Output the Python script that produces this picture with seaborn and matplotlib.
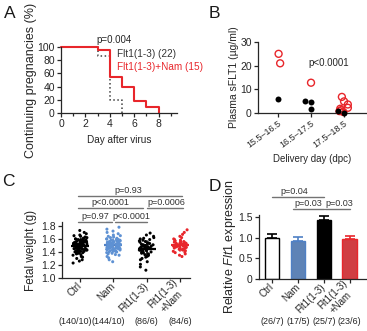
import numpy as np
import pandas as pd
import seaborn as sns
import matplotlib.pyplot as plt
import matplotlib.transforms as mtransforms
from matplotlib.ticker import MultipleLocator

# ---- data ----
# A: continuing pregnancies (%) per day after virus
a_days_flt1 = [0, 3, 4, 5]
a_surv_flt1 = [100, 86, 20, 0]
a_days_nam = [0, 3, 4, 5, 6, 7, 8]
a_surv_nam = [100, 96, 55, 40, 18, 9, 0]

# B: plasma sFLT1 by delivery day
b_groups = ['15.5–16.5', '16.5–17.5', '17.5–18.5']
b_red_group = [0, 0, 1, 2, 2, 2, 2, 2, 2, 2, 2]
b_red_val = [25, 21, 12.8, 6.8, 4.9, 3.6, 2.2, 1.8, 1.2, 0.8, 0.4]
b_black_group = [0, 1, 1, 1, 2, 2]
b_black_val = [6, 4.9, 4.6, 1.5, 0.0, 0.8]

# C: fetal weight (g)
c_groups = ['Ctrl', 'Nam', 'Flt1(1-3)', 'Flt1(1-3)\n+Nam']
c_ctrl = [1.23, 1.26, 1.28, 1.30, 1.32, 1.33, 1.35, 1.36, 1.37, 1.38, 1.38, 1.39,
          1.40, 1.40, 1.41, 1.41, 1.42, 1.42, 1.43, 1.43, 1.43, 1.44, 1.44, 1.44,
          1.45, 1.45, 1.45, 1.46, 1.46, 1.46, 1.46, 1.47, 1.47, 1.47, 1.47, 1.48,
          1.48, 1.48, 1.48, 1.48, 1.49, 1.49, 1.49, 1.49, 1.49, 1.50, 1.50, 1.50,
          1.50, 1.50, 1.50, 1.51, 1.51, 1.51, 1.51, 1.51, 1.51, 1.52, 1.52, 1.52,
          1.52, 1.52, 1.52, 1.53, 1.53, 1.53, 1.53, 1.53, 1.54, 1.54, 1.54, 1.54,
          1.54, 1.55, 1.55, 1.55, 1.55, 1.56, 1.56, 1.56, 1.56, 1.57, 1.57, 1.57,
          1.58, 1.58, 1.58, 1.59, 1.59, 1.60, 1.60, 1.61, 1.61, 1.62, 1.63, 1.64,
          1.65, 1.66, 1.68, 1.70, 1.73]
c_nam = [1.25, 1.28, 1.31, 1.33, 1.35, 1.36, 1.37, 1.38, 1.39, 1.40, 1.40, 1.41,
         1.41, 1.42, 1.42, 1.43, 1.43, 1.44, 1.44, 1.44, 1.45, 1.45, 1.45, 1.46,
         1.46, 1.46, 1.47, 1.47, 1.47, 1.47, 1.48, 1.48, 1.48, 1.48, 1.49, 1.49,
         1.49, 1.49, 1.49, 1.50, 1.50, 1.50, 1.50, 1.50, 1.50, 1.51, 1.51, 1.51,
         1.51, 1.51, 1.52, 1.52, 1.52, 1.52, 1.52, 1.53, 1.53, 1.53, 1.53, 1.54,
         1.54, 1.54, 1.54, 1.55, 1.55, 1.55, 1.56, 1.56, 1.56, 1.57, 1.57, 1.58,
         1.58, 1.59, 1.59, 1.60, 1.60, 1.61, 1.62, 1.63, 1.64, 1.65, 1.66, 1.68,
         1.70, 1.72, 1.75, 1.78]
c_flt1 = [1.12, 1.17, 1.21, 1.25, 1.28, 1.30, 1.32, 1.33, 1.34, 1.35, 1.36, 1.37,
          1.38, 1.39, 1.40, 1.40, 1.41, 1.42, 1.42, 1.43, 1.43, 1.44, 1.44, 1.45,
          1.45, 1.45, 1.46, 1.46, 1.46, 1.47, 1.47, 1.48, 1.48, 1.49, 1.49, 1.50,
          1.50, 1.51, 1.51, 1.52, 1.53, 1.53, 1.54, 1.55, 1.56, 1.57, 1.58, 1.59,
          1.60, 1.61, 1.62, 1.64, 1.66, 1.69]
c_fltnam = [1.33, 1.35, 1.37, 1.39, 1.40, 1.41, 1.42, 1.43, 1.44, 1.44, 1.45, 1.45,
            1.46, 1.46, 1.47, 1.47, 1.48, 1.48, 1.48, 1.49, 1.49, 1.49, 1.50, 1.50,
            1.50, 1.50, 1.51, 1.51, 1.51, 1.52, 1.52, 1.52, 1.53, 1.53, 1.54, 1.54,
            1.55, 1.55, 1.56, 1.57, 1.58, 1.59, 1.60, 1.62, 1.64, 1.67, 1.70, 1.74]
c_counts = ['(140/10)', '(144/10)', '(86/6)', '(84/6)']

# D: relative Flt1 expression
d_groups = ['Ctrl', 'Nam', 'Flt1(1-3)', 'Flt1(1-3)\n+Nam']
d_vals = [1.00, 0.92, 1.42, 0.97]
d_err = [0.09, 0.09, 0.10, 0.06]
d_counts = ['(26/7)', '(17/5)', '(25/7)', '(23/6)']

RED = '#e8262b'
BLUE = '#4f80c5'
BLUE_PT = '#5e91d3'

sns.set_style('ticks')
plt.rcParams['font.family'] = ['Liberation Sans', 'DejaVu Sans']
plt.rcParams['mathtext.fontset'] = 'custom'
plt.rcParams['mathtext.rm'] = 'Liberation Sans'
plt.rcParams['mathtext.it'] = 'Liberation Sans:italic'
plt.rcParams['axes.linewidth'] = 0.9
plt.rcParams['axes.edgecolor'] = '0.15'
plt.rcParams['xtick.color'] = '0.15'
plt.rcParams['ytick.color'] = '0.15'
plt.rcParams['xtick.major.size'] = 3
plt.rcParams['ytick.major.size'] = 3
plt.rcParams['xtick.major.width'] = 0.9
plt.rcParams['ytick.major.width'] = 0.9
plt.rcParams['xtick.major.pad'] = 1.5
plt.rcParams['ytick.major.pad'] = 1.5
np.random.seed(3)

W, H = 367, 331
fig = plt.figure(figsize=(W / 100, H / 100), dpi=100)


def px_axes(left, right, top, bottom):
    return fig.add_axes([left / W, 1 - bottom / H, (right - left) / W, (bottom - top) / H])


def tidy(ax):
    sns.despine(ax=ax)
    ax.tick_params(labelsize=7.5, labelcolor='0.15')


def ylabel_at(ax, text, xpx, left, right, size):
    # xpx is the wanted centre of the rotated label; the label is anchored at its right side
    ax.set_ylabel(text, fontsize=size)
    xr = xpx + 0.55 * size * 100 / 72
    ax.yaxis.set_label_coords((xr - left) / (right - left), 0.5)


def rotate_labels(ax, angle, va='center'):
    for lab in ax.get_xticklabels():
        lab.set_rotation(angle)
        lab.set_ha('right')
        lab.set_va(va)
        lab.set_rotation_mode('anchor')
        lab.set_multialignment('center')


# ---- A ----
ax = px_axes(61, 177, 47, 113)
sns.lineplot(x=a_days_flt1, y=a_surv_flt1, drawstyle='steps-post', color='0.25',
             linestyle=':', linewidth=1.1, ax=ax, clip_on=False)
sns.lineplot(x=a_days_nam, y=a_surv_nam, drawstyle='steps-post', color=RED,
             linewidth=1.5, ax=ax, clip_on=False)
ax.set_xlim(0, 9.5)
ax.set_ylim(0, 100)
ax.set_xticks([0, 2, 4, 6, 8])
ax.xaxis.set_minor_locator(MultipleLocator(1))
ax.tick_params(axis='x', which='minor', length=2, width=0.9)
ax.set_yticks([0, 20, 40, 60, 80, 100])
tidy(ax)
ax.set_xlabel('Day after virus', fontsize=7.2, labelpad=4)
ylabel_at(ax, 'Continuing pregnancies (%)', 30, 61, 177, 9)
ax.text(2.9, 103, 'p=0.004', fontsize=7, color='0.15', ha='left', va='bottom')
ax.text(4.6, 89, 'Flt1(1-3) (22)', fontsize=7.2, color='0.2', va='center')
ax.text(4.6, 70, 'Flt1(1-3)+Nam (15)', fontsize=7.2, color=RED, va='center', clip_on=False)

# ---- B ----
ax = px_axes(258, 367, 42, 113)
dfr = pd.DataFrame({'g': [b_groups[i] for i in b_red_group], 'v': b_red_val})
dfb = pd.DataFrame({'g': [b_groups[i] for i in b_black_group], 'v': b_black_val})
n0 = len(ax.collections)
sns.stripplot(data=dfr, x='g', y='v', order=b_groups, color=RED, size=5,
              jitter=0.15, ax=ax)
for coll in ax.collections[n0:]:
    coll.set_facecolor('none')
    coll.set_edgecolor(RED)
    coll.set_linewidth(1.0)
    coll.set_clip_on(False)
n0 = len(ax.collections)
sns.swarmplot(data=dfb, x='g', y='v', order=b_groups, color='black', size=4.3, ax=ax)
for coll in ax.collections[n0:]:
    coll.set_clip_on(False)
ax.set_xlim(-0.61, 2.7)
ax.set_ylim(0, 30)
ax.set_yticks([0, 10, 20, 30])
tidy(ax)
ax.tick_params(axis='x', labelsize=6.5)
rotate_labels(ax, 36, va='top')
ax.set_xlabel('Delivery day (dpc)', fontsize=7, labelpad=3)
ylabel_at(ax, 'Plasma sFLT1 (µg/ml)', 233, 258, 367, 7.5)
ax.text(1.55, 21, 'p<0.0001', fontsize=7, color='0.15', ha='center', va='center')

# ---- C ----
ax = px_axes(62, 190, 222, 278)
dfc = pd.DataFrame({
    'g': [c_groups[0]] * len(c_ctrl) + [c_groups[1]] * len(c_nam)
         + [c_groups[2]] * len(c_flt1) + [c_groups[3]] * len(c_fltnam),
    'w': c_ctrl + c_nam + c_flt1 + c_fltnam,
})
pt_pal = dict(zip(c_groups, ['black', BLUE_PT, 'black', RED]))
mean_pal = dict(zip(c_groups, ['black', BLUE, 'black', RED]))
sns.stripplot(data=dfc, x='g', y='w', hue='g', order=c_groups, palette=pt_pal,
              jitter=0.22, size=2.2, linewidth=0, legend=False, ax=ax)
sns.pointplot(data=dfc, x='g', y='w', hue='g', order=c_groups, palette=mean_pal,
              errorbar='sd', markers='_', linestyles='none', markersize=13,
              markeredgewidth=1.6, err_kws={'linewidth': 1.2}, legend=False, ax=ax)
ax.set_xlim(-0.54, 3.3)
ax.set_ylim(1.0, 1.86)
ax.set_yticks([1.0, 1.2, 1.4, 1.6, 1.8])
ax.set_xlabel('')
tidy(ax)
ylabel_at(ax, 'Fetal weight (g)', 31, 62, 190, 8.5)
ax.tick_params(axis='x', labelsize=7)
rotate_labels(ax, 45)
c_brackets = [(-0.05, 0.95, 1.86, 0.45, 'p=0.97'),
              (1.05, 2.0, 1.86, 1.55, 'p<0.0001'),
              (-0.05, 1.9, 2.08, 0.92, 'p<0.0001'),
              (2.0, 3.1, 2.08, 2.6, 'p=0.0006'),
              (-0.05, 3.05, 2.26, 1.45, 'p=0.93')]
for x0, x1, yb, xt, s in c_brackets:
    ax.plot([x0, x1], [yb, yb], color='0.45', linewidth=1.0, clip_on=False)
    ax.text(xt, yb + 0.015, s, fontsize=6.5, color='0.2', ha='center', va='bottom')
tr = mtransforms.blended_transform_factory(ax.transData, fig.transFigure)
for i, s in enumerate(c_counts):
    ax.text(i - 0.15 if i < 2 else i, 0.028, s, transform=tr, fontsize=6.5,
            color='0.15', ha='center', va='center')

# ---- D ----
ax = px_axes(259, 367, 215, 279)
dfd = pd.DataFrame({'g': d_groups, 'v': d_vals})
d_fill = ['white', BLUE, 'black', RED]
d_edge = ['black', BLUE, 'black', RED]
sns.barplot(data=dfd, x='g', y='v', hue='g', order=d_groups, palette=dict(zip(d_groups, d_fill)),
            width=0.55, legend=False, ax=ax, errorbar=None)
for p, ec in zip(ax.patches, d_edge):
    p.set_edgecolor(ec)
    p.set_linewidth(1.0)
for i in range(4):
    ax.errorbar(i, d_vals[i], yerr=[[0], [d_err[i]]], fmt='none', ecolor=d_edge[i],
                elinewidth=1.2, capsize=3.5, capthick=1.2)
ax.set_xlim(-0.52, 3.68)
ax.set_ylim(0, 1.55)
ax.set_yticks([0, 0.5, 1.0, 1.5])
ax.set_yticklabels(['0', '0.5', '1.0', '1.5'])
ax.set_xlabel('')
tidy(ax)
ylabel_at(ax, r'Relative $\it{Flt1}$ expression', 231, 259, 367, 9)
ax.tick_params(axis='x', labelsize=7)
rotate_labels(ax, 45)
d_brackets = [(0.0, 2.0, 1.99, 0.85, 'p=0.04'),
              (0.8, 2.0, 1.69, 1.38, 'p=0.03'),
              (2.05, 3.0, 1.69, 2.6, 'p=0.03')]
for x0, x1, yb, xt, s in d_brackets:
    ax.plot([x0, x1], [yb, yb], color='0.45', linewidth=1.0, clip_on=False)
    ax.text(xt, yb + 0.03, s, fontsize=6.5, color='0.2', ha='center', va='bottom')
tr = mtransforms.blended_transform_factory(ax.transData, fig.transFigure)
for i, s in enumerate(d_counts):
    ax.text(i, 0.028, s, transform=tr, fontsize=6.5, color='0.15', ha='center', va='center')

# panel letters
for x, y, s in [(4, 6, 'A'), (209, 6, 'B'), (2, 174, 'C'), (209, 179, 'D')]:
    fig.text(x / W, 1 - y / H, s, fontsize=12.5, ha='left', va='top', color='0.1')

fig.savefig('out.png', dpi=100)
